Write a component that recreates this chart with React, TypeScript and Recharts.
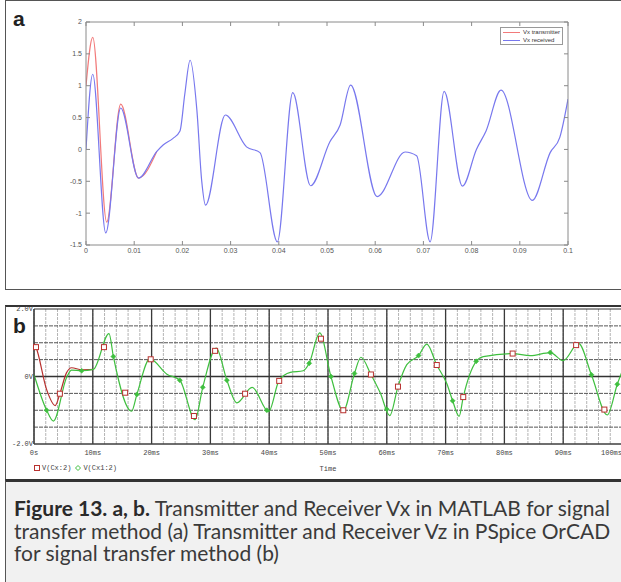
import React from 'react';
import {
    LineChart,
    ComposedChart,
    Line,
    Scatter,
    XAxis,
    YAxis,
    CartesianGrid,
    ReferenceLine,
    Legend,
} from 'recharts';

// ---- (a) MATLAB: Vx transmitter / Vx received, time in s ----
const aTicksX = [0, 0.01, 0.02, 0.03, 0.04, 0.05, 0.06, 0.07, 0.08, 0.09, 0.1];
const aTicksY = [-1.5, -1, -0.5, 0, 0.5, 1, 1.5, 2];

const aRecvT = [0, 0.0014, 0.0041, 0.0072, 0.0109, 0.0147, 0.016, 0.018, 0.0195, 0.0205, 0.0216, 0.023, 0.024, 0.0248,
    0.0289, 0.0333, 0.0361, 0.0397, 0.0429, 0.0466, 0.0506, 0.0527, 0.0549, 0.0604, 0.0662, 0.0686, 0.0714, 0.0743,
    0.0781, 0.081, 0.083, 0.0861, 0.0926, 0.0963, 0.0983, 0.1];
const aRecvV = [0, 1.18, -1.31, 0.65, -0.45, -0.03, 0.07, 0.17, 0.29, 0.87, 1.4, 0.62, -0.49, -0.875,
    0.54, 0.04, -0.05, -1.45, 0.89, -0.57, 0.12, 0.38, 1.01, -0.74, -0.04, -0.1, -1.45, 0.91,
    -0.575, 0, 0.29, 0.93, -0.8, -0.05, 0.19, 0.79];

const aTxT = [0, 0.0014, 0.0043, 0.0072, 0.0109, 0.0147];
const aTxV = [1.0, 1.76, -1.14, 0.71, -0.45, -0.03];

// ---- (b) PSpice: V(Cx:2) / V(Cx1:2), time in ms ----
const bMajorX = [0, 10, 20, 30, 40, 50, 60, 70, 80, 90, 100];
const bLabelsX = ['0s', '10ms', '20ms', '30ms', '40ms', '50ms', '60ms', '70ms', '80ms', '90ms', '100ms'];
const bTicksY = [-2, -1.5, -1, -0.5, 0, 0.5, 1, 1.5, 2];
const bLabelsY: Record<string, string> = { '-2': '-2.0V', '0': '0V', '2': '2.0V' };

const bGreenT = [0, 2.15, 3.3, 5.56, 6.4, 8.1, 10.1, 12.76, 13.5, 16.6, 17.5, 19.7, 22.6, 24.8, 27.4, 28.7, 31.0,
    32.8, 34.5, 37.1, 39.9, 41.7, 43.6, 45.8, 46.8, 48.6, 50.5, 52.6, 54.5, 55.6, 57.3, 58.9, 60.5, 61.9, 63.4,
    65.4, 66.8, 68.5, 70.2, 71.2, 72.3, 73.0, 75.2, 76.4, 81.4, 84.4, 87.8, 90.0, 92.6, 94.8, 97.5, 99.2, 100];
const bGreenV = [0.06, -1.0, -1.32, -0.02, 0.19, 0.17, 0.21, 1.27, 0.59, -1.03, -0.53, 0.52, 0.07, -0.11, -1.28, -0.32, 0.84,
    -0.11, -0.78, -0.32, -1.04, -0.11, 0.12, 0.17, 0.39, 1.29, 0, -1.02, 0.09, 0.57, 0.06, -0.49, -1.16, -0.3, 0.35,
    0.62, 0.96, 0.34, -0.21, -0.72, -1.18, -0.61, 0.45, 0.59, 0.68, 0.62, 0.71, 0.47, 0.98, 0.05, -1.14, -0.23, 0.15];

const bRedT = [0, 0.34, 2.15, 3.6, 4.4, 5.5, 6.4, 8.1, 10.1];
const bRedV = [0.98, 0.87, -0.39, -0.86, -0.51, 0.1, 0.26, 0.2, 0.21];

const bRedMarkT = [0.34, 4.4, 11.9, 15.5, 19.85, 27.2, 30.8, 35.9, 41.7, 48.8, 52.6, 57.3, 61.9, 68.5, 73.0, 81.4, 92.2, 97.0];
const bRedMarkV = [0.87, -0.51, 0.87, -0.48, 0.51, -1.17, 0.76, -0.51, -0.13, 1.12, -1.0, 0.06, -0.3, 0.34, -0.61, 0.68, 0.93, -0.98];
const bGreenMarkT = [2.15, 8.1, 13.5, 17.5, 24.8, 28.7, 32.8, 39.6, 46.8, 50.5, 54.5, 60.0, 65.4, 71.2, 75.2, 87.8, 94.8, 99.2];
const bGreenMarkV = [-1.0, 0.17, 0.59, -0.53, -0.11, -0.32, -0.11, -1.0, 0.39, 0, 0.09, -0.97, 0.62, -0.72, 0.45, 0.71, 0.05, -0.23];

const pairs = (ts: number[], vs: number[]) => ts.map((t, i) => ({ t, v: vs[i] }));

const aRecv = pairs(aRecvT, aRecvV);
const aTx = pairs(aTxT, aTxV);
const bGreen = pairs(bGreenT, bGreenV);
const bRed = pairs(bRedT, bRedV);
const bRedMarks = pairs(bRedMarkT, bRedMarkV);
const bGreenMarks = pairs(bGreenMarkT, bGreenMarkV);
const bMinorX = Array.from({ length: 51 }, (_, i) => i * 2);

const MATLAB_RED = '#f27a7a';
const MATLAB_BLUE = '#7878ee';
const SPICE_RED = '#b8312f';
const SPICE_GREEN = '#3fbf3f';
const MONO = '"Liberation Mono", "DejaVu Sans Mono", monospace';
const PANEL_LETTER = { position: 'absolute' as const, left: 13, fontFamily: '"Liberation Sans", Arial, sans-serif', fontWeight: 700, fontSize: 21, lineHeight: '15px', color: '#222' };

const matlabTick = { fontSize: 7, fill: '#555', fontFamily: '"Liberation Sans", Arial, sans-serif' };

function MatlabLegend() {
    const row = (color: string, label: string) => (
        <div style={{ display: 'flex', alignItems: 'center', height: 8 }}>
            <span style={{ width: 17, borderTop: `1px solid ${color}`, marginRight: 3 }} />
            <span>{label}</span>
        </div>
    );
    return (
        <div style={{
            border: '1px solid #999', background: '#fff', padding: '0px 2px', width: 57,
            fontSize: 6, lineHeight: '8px', color: '#333', fontFamily: '"Liberation Sans", Arial, sans-serif',
        }}>
            {row(MATLAB_RED, 'Vx transmitter')}
            {row(MATLAB_BLUE, 'Vx received')}
        </div>
    );
}

function SpiceLegend() {
    return (
        <div style={{ display: 'flex', alignItems: 'center', fontFamily: MONO, fontSize: 7, color: '#444', whiteSpace: 'nowrap' }}>
            <svg width={6} height={6} style={{ marginRight: 2 }}>
                <rect x={0.5} y={0.5} width={5} height={5} fill="none" stroke={SPICE_RED} />
            </svg>
            <span style={{ marginRight: 4 }}>V(Cx:2)</span>
            <svg width={6} height={6} style={{ marginRight: 2 }}>
                <path d="M3,0.5L5.5,3L3,5.5L0.5,3Z" fill="none" stroke={SPICE_GREEN} />
            </svg>
            <span>V(Cx1:2)</span>
        </div>
    );
}

function SpiceXTick(props: any) {
    const { x, y, payload } = props;
    const i = bMajorX.indexOf(payload.value);
    if (i < 0) return <g />;
    const last = i === bMajorX.length - 1;
    return (
        <text x={x} y={y} dy="0.71em" textAnchor={last ? 'end' : 'middle'} fontSize={7} fontFamily={MONO} fill="#444">
            {bLabelsX[i]}
        </text>
    );
}

const RedSquare = (p: any) => (
    <rect x={p.cx - 2.5} y={p.cy - 2.5} width={5} height={5} fill="#fff" stroke={SPICE_RED} strokeWidth={1} />
);
const GreenDiamond = (p: any) => (
    <path d={`M${p.cx},${p.cy - 2.5}L${p.cx + 2.5},${p.cy}L${p.cx},${p.cy + 2.5}L${p.cx - 2.5},${p.cy}Z`}
        fill={SPICE_GREEN} stroke={SPICE_GREEN} strokeWidth={0.6} />
);

export default function App() {
    return (
        <div style={{ position: 'absolute', left: 0, top: 0, width: 621, height: 582, overflow: 'hidden', background: '#fff' }}>
            {/* panel a */}
            <div style={{ position: 'absolute', left: 5, top: 0, width: 630, height: 288, borderTop: '1px solid #555', borderLeft: '1px solid #555', borderBottom: '1px solid #555' }} />
            <div style={{ position: 'absolute', left: 0, top: 0 }}>
                <LineChart width={621} height={289} margin={{ top: 21, right: 52, bottom: 0, left: 0 }}>
                    <XAxis dataKey="t" type="number" domain={[0, 0.1]} ticks={aTicksX} interval={0}
                        tickFormatter={(v: number) => String(Number(v.toFixed(2)))}
                        height={26} tickSize={-4} tickMargin={7} stroke="#8a8a8a" tick={matlabTick} allowDataOverflow />
                    <XAxis xAxisId="top" orientation="top" dataKey="t" type="number" domain={[0, 0.1]} ticks={aTicksX}
                        interval={0} tickFormatter={() => ''} height={1} tickSize={-4} stroke="#8a8a8a" allowDataOverflow />
                    <YAxis type="number" domain={[-1.5, 2]} ticks={aTicksY} interval={0} width={86}
                        tickSize={-4} tickMargin={8} stroke="#8a8a8a" tick={matlabTick} allowDataOverflow />
                    <YAxis yAxisId="right" orientation="right" type="number" domain={[-1.5, 2]} ticks={aTicksY}
                        interval={0} width={1} tickSize={-4} tickFormatter={() => ''} stroke="#8a8a8a" allowDataOverflow />
                    <Legend content={<MatlabLegend />} wrapperStyle={{ position: 'absolute', left: 500, top: 27, width: 'auto' }} />
                    {/* invisible copy that binds the top / right box axes */}
                    <Line xAxisId="top" yAxisId="right" data={aRecv} dataKey="v" stroke="none" dot={false}
                        legendType="none" isAnimationActive={false} />
                    <Line data={aTx} dataKey="v" name="Vx transmitter" type="monotone" stroke={MATLAB_RED}
                        strokeWidth={1.2} dot={false} isAnimationActive={false} />
                    <Line data={aRecv} dataKey="v" name="Vx received" type="monotone" stroke={MATLAB_BLUE}
                        strokeWidth={1.2} dot={false} isAnimationActive={false} />
                </LineChart>
            </div>
            <div style={{ ...PANEL_LETTER, top: 11 }}>a</div>

            {/* panel b */}
            <div style={{ position: 'absolute', left: 5, top: 305, width: 630, height: 175, borderTop: '2px solid #333', borderLeft: '1px solid #555' }} />
            <div style={{ position: 'absolute', left: 0, top: 298 }}>
                <ComposedChart width={630} height={182} margin={{ top: 11, right: 8, bottom: 0, left: 0 }}>
                    <CartesianGrid horizontal={false} verticalValues={bMinorX} stroke="#b4b4b4" strokeDasharray="3 1" />
                    {bTicksY.map(y => (
                        <ReferenceLine key={`h${y}`} y={y} stroke={y === 0 || Math.abs(y) === 2 ? '#333' : '#555'}
                            strokeDasharray={y === 0 || Math.abs(y) === 2 ? undefined : '4 1'} strokeWidth={y === 0 ? 1.3 : 1} />
                    ))}
                    {bMajorX.map(x => (
                        <ReferenceLine key={`v${x}`} x={x} stroke="#3a3a3a" strokeWidth={1.3} />
                    ))}
                    <XAxis dataKey="t" type="number" domain={[0, 100]} ticks={bMinorX} interval={0} height={28}
                        tickLine={false} tickSize={0} tickMargin={6} stroke="#444" tick={<SpiceXTick />}
                        label={{ value: 'Time', position: 'insideBottom', offset: 1, fontSize: 7, fontFamily: MONO, fill: '#444' }} />
                    <YAxis type="number" domain={[-2, 2]} ticks={bTicksY} interval={0} width={34}
                        tickLine={false} tickSize={0} tickMargin={1} stroke="#444"
                        tickFormatter={(v: number) => bLabelsY[String(v)] || ''}
                        tick={{ fontSize: 7, fontFamily: MONO, fill: '#444' }} />
                    <Legend content={<SpiceLegend />} wrapperStyle={{ position: 'absolute', left: 34, top: 166, width: 'auto' }} />
                    <Line data={bRed} dataKey="v" name="V(Cx:2)" type="monotone" stroke={SPICE_RED} strokeWidth={1.2}
                        dot={false} isAnimationActive={false} />
                    <Line data={bGreen} dataKey="v" name="V(Cx1:2)" type="monotone" stroke={SPICE_GREEN} strokeWidth={1.2}
                        dot={false} isAnimationActive={false} />
                    <Scatter data={bRedMarks} dataKey="v" shape={RedSquare} isAnimationActive={false} />
                    <Scatter data={bGreenMarks} dataKey="v" shape={GreenDiamond} isAnimationActive={false} />
                </ComposedChart>
            </div>
            <div style={{ ...PANEL_LETTER, top: 318 }}>b</div>

            {/* caption */}
            <div style={{
                position: 'absolute', left: 5, top: 479, width: 630, height: 110, background: '#f1f1f1',
                borderTop: '3px solid #333', borderLeft: '1px solid #555',
            }} />
            <div style={{
                position: 'absolute', left: 14, top: 497, fontFamily: 'Lato, "Open Sans", sans-serif', fontSize: 21,
                lineHeight: '22.7px', color: '#3a3a3a', whiteSpace: 'nowrap',
            }}>
                <div><b style={{ color: '#2a2a2a' }}>Figure 13. a, b.</b> Transmitter and Receiver Vx in MATLAB for signal</div>
                <div>transfer method (a) Transmitter and Receiver Vz in PSpice OrCAD</div>
                <div>for signal transfer method (b)</div>
            </div>
        </div>
    );
}
